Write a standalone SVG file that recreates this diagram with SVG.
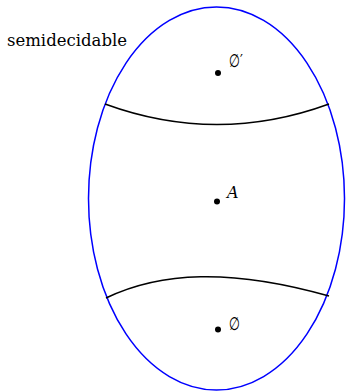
<svg xmlns="http://www.w3.org/2000/svg" width="346" height="392" viewBox="0 0 346 392">
<style>
.dot{fill:#000}
.cut{fill:none;stroke:#000;stroke-width:1.5}
.serif{font-family:'DejaVu Serif',serif;fill:#000}
.sym{font-family:'DejaVu Sans',sans-serif;fill:#000;font-size:18px}
</style>
<rect width="346" height="392" fill="#fff"/>
<g id="ellipse">
<ellipse cx="216.5" cy="198.5" rx="128" ry="191.5" fill="none" stroke="#0000ff" stroke-width="1.5"/>
</g>
<g id="connectors">
<path class="cut" d="M105 104 Q217 145 329 104"/>
<path class="cut" d="M106 298 C160 272 230 268 329 296"/>
</g>
<g id="label-semidecidable">
<text class="serif" x="7" y="46" font-size="16" textLength="120" lengthAdjust="spacingAndGlyphs">semidecidable</text>
</g>
<g id="node-emptyprime">
<circle class="dot" cx="218" cy="73" r="3"/>
<text class="sym" transform="translate(229 67) scale(0.7 1)" x="0" y="0">∅′</text>
</g>
<g id="node-A">
<circle class="dot" cx="217" cy="201.5" r="3"/>
<text class="serif" x="227" y="198" font-style="italic" font-size="16">A</text>
</g>
<g id="node-empty">
<circle class="dot" cx="218" cy="329.5" r="3"/>
<text class="sym" transform="translate(229 330) scale(0.7 1)" x="0" y="0">∅</text>
</g>
</svg>
